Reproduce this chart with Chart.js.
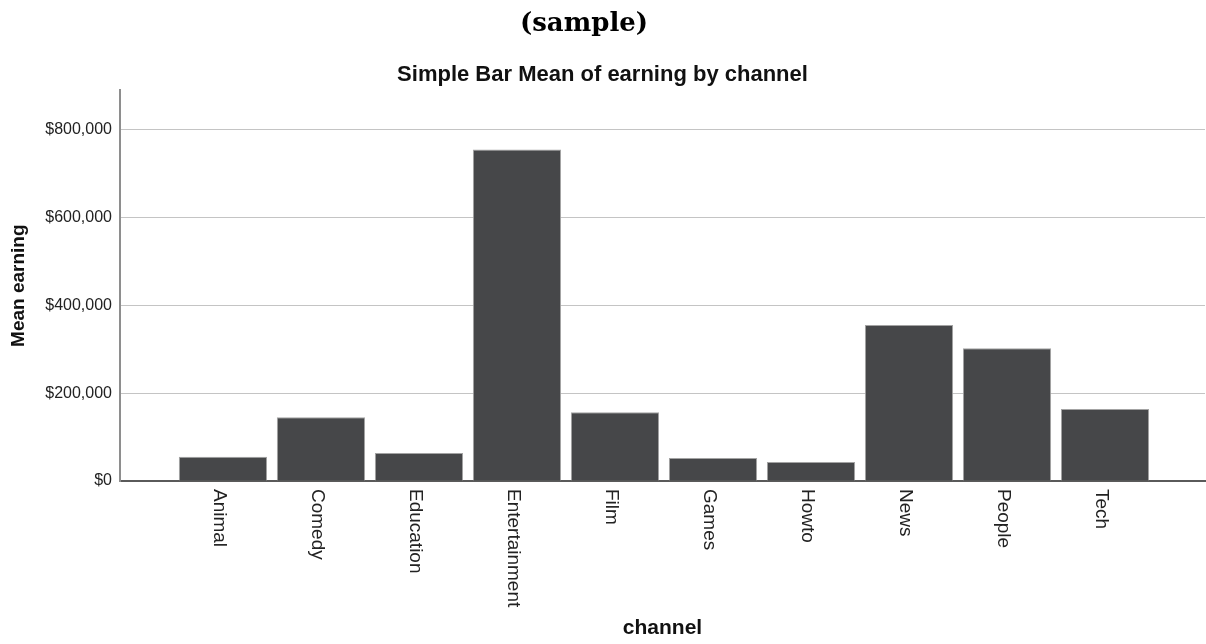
<!DOCTYPE html>
<html lang="en">
<head>
  <meta charset="UTF-8">
  <title>Mean earning by channel</title>
  <script src="https://cdn.jsdelivr.net/npm/chart.js@4.4.1/dist/chart.umd.min.js"></script>
  <style>
    html, body { margin: 0; padding: 0; background: #fff; }
  </style>
</head>
<body>
  <canvas id="earningChart" width="1206" height="644"></canvas>

  <script>
    const channels = ['Animal', 'Comedy', 'Education', 'Entertainment', 'Film', 'Games', 'Howto', 'News', 'People', 'Tech'];
    const meanEarning = [55200, 145500, 63600, 755200, 156800, 52300, 43200, 355200, 302300, 164300];
    const yTicks = [0, 200000, 400000, 600000, 800000];

    const sans = '"Liberation Sans", Arial, sans-serif';

    // "(sample)" heading above the chart title
    const heading = {
      id: 'heading',
      afterDraw(chart) {
        const ctx = chart.ctx;
        ctx.save();
        ctx.font = 'bold 26px "DejaVu Serif", serif';
        ctx.fillStyle = '#000';
        ctx.textAlign = 'center';
        ctx.textBaseline = 'middle';
        ctx.fillText('(sample)', 584, 24);
        ctx.restore();
      }
    };

    // channel names run downward under each bar
    const downLabels = {
      id: 'downLabels',
      afterDraw(chart) {
        const ctx = chart.ctx;
        const x = chart.scales.x;
        ctx.save();
        ctx.font = '19px ' + sans;
        ctx.fillStyle = '#222';
        ctx.textAlign = 'left';
        ctx.textBaseline = 'middle';
        channels.forEach((name, i) => {
          ctx.save();
          ctx.translate(x.getPixelForValue(i) - 4, chart.chartArea.bottom + 8);
          ctx.rotate(Math.PI / 2);
          ctx.fillText(name, 0, 0);
          ctx.restore();
        });
        ctx.restore();
      }
    };

    const ctx = document.getElementById('earningChart').getContext('2d');

    const chart = new Chart(ctx, {
      type: 'bar',
      data: {
        datasets: [{
          label: 'Mean earning',
          data: channels.map((c, i) => ({ x: i, y: meanEarning[i] })),
          backgroundColor: '#464749',
          borderColor: '#a3a3a3',
          borderWidth: 1,
          barPercentage: 0.9,
          categoryPercentage: 1.0
        }]
      },
      options: {
        responsive: false,
        animation: false,
        layout: { padding: { left: 0, right: 1, top: 0, bottom: 0 } },
        plugins: {
          legend: { display: false },
          tooltip: { enabled: false },
          title: {
            display: true,
            text: 'Simple Bar Mean of earning by channel',
            color: '#111',
            font: { family: sans, size: 22, weight: 'bold' },
            padding: { top: 62, bottom: 2 }
          }
        },
        scales: {
          x: {
            type: 'linear',
            offset: false,
            min: -1.05,
            max: 10.02,
            afterBuildTicks(scale) {
              scale.ticks = channels.map((c, i) => ({ value: i }));
            },
            grid: { display: false },
            ticks: { display: false },
            border: { color: '#5a5a5a', width: 2 },
            title: {
              display: true,
              text: 'channel',
              color: '#111',
              font: { family: sans, size: 21, weight: 'bold' },
              padding: { top: 0, bottom: 3 }
            },
            afterFit(scale) { scale.height = 163; }
          },
          y: {
            min: 0,
            max: 890000,
            afterBuildTicks(scale) {
              scale.ticks = yTicks.map(v => ({ value: v }));
            },
            ticks: {
              color: '#222',
              padding: 8,
              font: { family: sans, size: 16 },
              callback: v => '$' + v.toLocaleString('en-US')
            },
            grid: { color: '#c4c4c4', lineWidth: 1, drawTicks: false },
            border: { color: '#8e8e8e', width: 2 },
            title: {
              display: true,
              text: 'Mean earning',
              color: '#111',
              font: { family: sans, size: 19, weight: 'bold' },
              padding: { top: 7, bottom: 0 }
            },
            afterFit(scale) { scale.width = 120; }
          }
        }
      },
      plugins: [heading, downLabels]
    });
  </script>
</body>
</html>
